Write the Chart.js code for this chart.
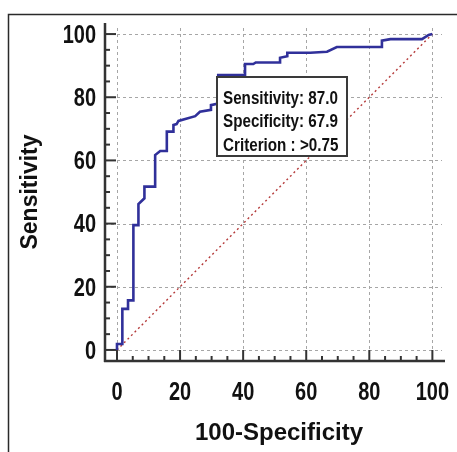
<!DOCTYPE html>
<html>
<head>
<meta charset="utf-8">
<script src="https://cdn.jsdelivr.net/npm/chart.js@4.4.0/dist/chart.umd.min.js"></script>
<style>
  html, body { margin: 0; padding: 0; background: #fff; }
  #wrap { width: 457px; height: 452px; }
</style>
</head>
<body>
<div id="wrap"><canvas id="roc" width="457" height="452"></canvas></div>
<script>
// ================= DATA =================
const TICKS = [0, 20, 40, 60, 80, 100];
const ROC_X = [0, 0, 1.7, 1.7, 3.5, 3.5, 5.2, 5.2, 6.8, 6.8, 8.7, 8.7, 12.1, 12.1, 13.7, 15.8, 15.8, 17.9, 17.9, 18.9,
    19.5, 24.8, 26.3, 29.8, 29.8, 32.1, 32.1, 40.6, 40.6, 43.2, 44.0, 51.7, 51.7, 54.0, 54.0, 61.3, 66.6, 69.7, 84.0, 84.0,
    86.7, 96.7, 98.8, 100];
const ROC_Y = [0, 1.9, 1.9, 13.0, 13.0, 15.7, 15.7, 39.5, 39.5, 46.2, 48.0, 51.7, 51.7, 61.7, 63.0, 63.0, 69.1, 69.1, 71.2, 71.5,
    72.5, 74.0, 75.4, 76.0, 77.5, 78.0, 87.0, 87.0, 90.5, 90.5, 91.0, 91.0, 92.5, 93.0, 94.1, 94.1, 94.4, 95.9, 95.9, 97.9,
    98.4, 98.4, 99.7, 100];
const DIAG_X = [0, 100];
const DIAG_Y = [0, 100];
const CRITERION = { x: 32.1, y: 87.0 };
const BOX_LINES = ["Sensitivity: 87.0", "Specificity: 67.9", "Criterion : >0.75"];
const X_TITLE = "100-Specificity";
const Y_TITLE = "Sensitivity";

const FONT = "'Liberation Sans', Arial, sans-serif";

// ================= HELPERS =================
function line(ctx, x1, y1, x2, y2) {
    ctx.beginPath();
    ctx.moveTo(x1, y1);
    ctx.lineTo(x2, y2);
    ctx.stroke();
}

// the source uses a narrow bold face, so squeeze the regular one
function narrowText(ctx, text, x, y, align, sx) {
    ctx.save();
    ctx.translate(x, y);
    ctx.scale(sx, 1);
    ctx.textAlign = align;
    ctx.fillText(text, 0, 0);
    ctx.restore();
}

// ================= AXES / GRID / BOX =================
const axesPlugin = {
    id: "axes",
    beforeDatasetsDraw(chart) {
        const { ctx, chartArea: a, scales: { x, y } } = chart;
        ctx.save();

        // outer frame (cropped on right / bottom)
        ctx.strokeStyle = "#2a2a2a";
        ctx.lineWidth = 1.5;
        ctx.beginPath();
        ctx.moveTo(8.5, 452);
        ctx.lineTo(8.5, 14.5);
        ctx.lineTo(457, 14.5);
        ctx.stroke();

        // dashed grid
        ctx.strokeStyle = "#a6a6a6";
        ctx.lineWidth = 1;
        ctx.setLineDash([3, 3]);
        TICKS.forEach(v => {
            const px = Math.round(x.getPixelForValue(v)) + 0.5;
            line(ctx, px, a.bottom, px, a.top + 4);
            const py = Math.round(y.getPixelForValue(v)) + 0.5;
            line(ctx, a.left, py, a.right - 3, py);
        });
        ctx.setLineDash([]);

        // axis lines
        ctx.strokeStyle = "#333";
        ctx.lineWidth = 2.5;
        line(ctx, a.left, a.top, a.left, a.bottom + 1);
        line(ctx, a.left - 1, a.bottom, a.right, a.bottom);

        // inward ticks, minor every 5
        ctx.lineWidth = 2;
        for (let v = 0; v <= 100; v += 5) {
            const len = v % 20 ? 5 : 11;
            const px = x.getPixelForValue(v);
            line(ctx, px, a.bottom, px, a.bottom - len);
            const py = y.getPixelForValue(v);
            line(ctx, a.left, py, a.left + len, py);
        }

        // tick labels
        ctx.fillStyle = "#111";
        ctx.font = "bold 25px " + FONT;
        ctx.textBaseline = "middle";
        TICKS.forEach(v => {
            narrowText(ctx, String(v), x.getPixelForValue(v), 393, "center", 0.8);
            narrowText(ctx, String(v), a.left - 9, y.getPixelForValue(v) + 2, "right", 0.8);
        });

        // x title
        ctx.font = "bold 24px " + FONT;
        ctx.textAlign = "center";
        ctx.fillText(X_TITLE, 279, 433);
        ctx.restore();
    },
    afterDatasetsDraw(chart) {
        const { ctx, scales: { x, y } } = chart;
        const bx = Math.round(x.getPixelForValue(CRITERION.x)) - 1;
        const by = Math.round(y.getPixelForValue(CRITERION.y)) + 2;
        const w = 130, h = 79;
        ctx.save();
        ctx.fillStyle = "#fff";
        ctx.fillRect(bx, by, w, h);
        ctx.strokeStyle = "#3a3a3a";
        ctx.lineWidth = 2;
        ctx.strokeRect(bx, by, w, h);
        ctx.fillStyle = "#111";
        ctx.font = "bold 18px " + FONT;
        ctx.textBaseline = "alphabetic";
        BOX_LINES.forEach((t, i) => narrowText(ctx, t, bx + 6, by + 27 + i * 23.3, "left", 0.845));
        ctx.restore();
    }
};

// ================= CHART =================
new Chart(document.getElementById("roc"), {
    type: "scatter",
    data: {
        datasets: [
            {
                label: "ROC",
                data: ROC_X.map((v, i) => ({ x: v, y: ROC_Y[i] })),
                showLine: true,
                borderColor: "#30309a",
                borderWidth: 2.6,
                pointRadius: 0,
                tension: 0
            },
            {
                label: "Reference",
                data: DIAG_X.map((v, i) => ({ x: v, y: DIAG_Y[i] })),
                showLine: true,
                borderColor: "#b53b3b",
                borderWidth: 1.4,
                borderDash: [2, 3],
                pointRadius: 0
            }
        ]
    },
    options: {
        responsive: false,
        devicePixelRatio: 1,
        animation: false,
        layout: { padding: { left: 0, top: 23, right: 12, bottom: 0 } },
        plugins: { legend: { display: false }, tooltip: { enabled: false } },
        scales: {
            x: {
                type: "linear",
                min: -3.8,
                max: 104,
                afterBuildTicks: s => { s.ticks = TICKS.map(v => ({ value: v })); },
                afterFit: s => { s.height = 91; },
                grid: { display: false, drawTicks: false },
                border: { display: false },
                ticks: { display: false },
                title: { display: false }
            },
            y: {
                type: "linear",
                min: -3.5,
                max: 103.5,
                afterBuildTicks: s => { s.ticks = TICKS.map(v => ({ value: v })); },
                afterFit: s => { s.width = 105; },
                grid: { display: false, drawTicks: false },
                border: { display: false },
                ticks: { display: false },
                title: {
                    display: true,
                    text: Y_TITLE,
                    color: "#111",
                    font: { family: FONT, size: 23, weight: "bold" },
                    padding: { top: 17, bottom: 0 }
                }
            }
        }
    },
    plugins: [axesPlugin]
});
</script>
</body>
</html>
